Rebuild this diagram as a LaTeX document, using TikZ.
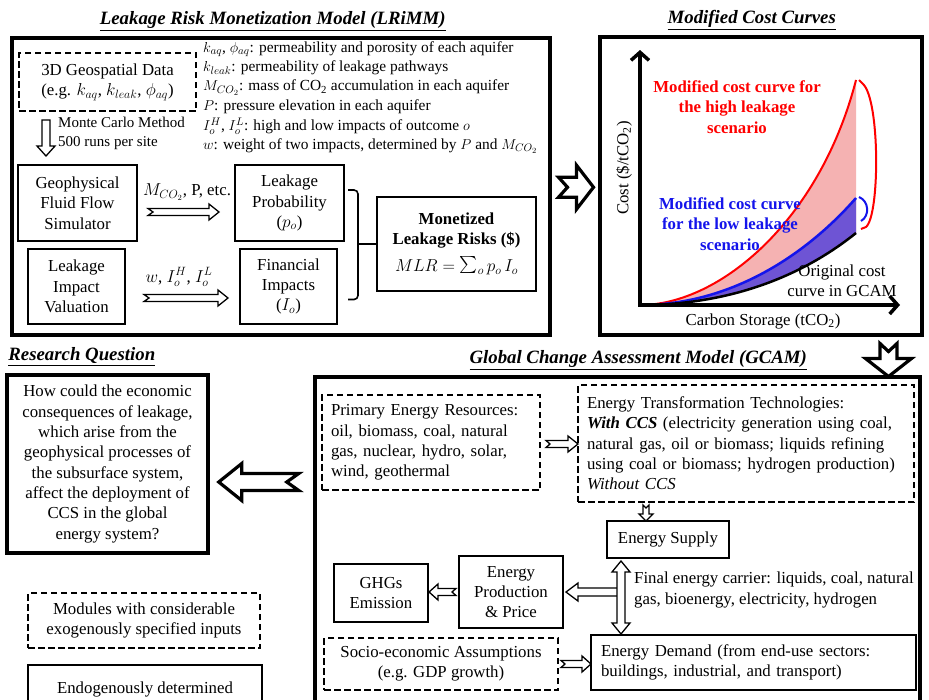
\documentclass[tikz,border=0pt]{standalone}
\usepackage{fontspec}
\setmainfont{Liberation Serif}
\usetikzlibrary{positioning, calc, arrows.meta}

\definecolor{rosa}{RGB}{245,178,178}
\definecolor{morado}{RGB}{110,84,212}
\definecolor{azul}{RGB}{20,20,235}

\newcommand{\txtcaja}{\fontsize{16.8}{20.3}\selectfont}
\newcommand{\txtdef}{\fontsize{15.4}{19.4}\selectfont}
\newcommand{\txtmonte}{\fontsize{15}{19}\selectfont}
\newcommand{\txttitulo}{\fontsize{18.8}{22}\selectfont\bfseries\itshape}

\tikzset{
	% flecha hueca con muesca: largo / media cana / media punta / largo punta / muesca
	pics/flechahueca/.style args={#1/#2/#3/#4/#5}{code={
			\filldraw[fill=white, line join=miter] (0,#2) -- ({#1-#4},#2) -- ({#1-#4},#3) -- (#1,0) -- ({#1-#4},-#3) -- ({#1-#4},-#2) -- (0,-#2) -- (#5,0) -- cycle;
	}},
	% flecha hueca de doble punta: largo / media cana / media punta / largo punta
	pics/flechadoble/.style args={#1/#2/#3/#4}{code={
			\filldraw[fill=white, line join=miter] (0,0) -- (#4,#3) -- (#4,#2) -- ({#1-#4},#2) -- ({#1-#4},#3) -- (#1,0) -- ({#1-#4},-#3) -- ({#1-#4},-#2) -- (#4,-#2) -- (#4,-#3) -- cycle;
	}}
}

\begin{document}
\begin{tikzpicture}[
		x=1pt, y=-1pt,
		% Estilos de cajas
		marco/.style={draw, line width=3.5pt, inner sep=0pt},
		caja/.style={draw, line width=2pt, align=center, font=\txtcaja, inner sep=2pt},
		punteada/.style={caja, dashed, dash pattern=on 6.5pt off 3.5pt},
		titulo/.style={font=\txttitulo},
		% Estilos de flechas
		flecha/.style={line width=1.3pt},
		flechagrande/.style={line width=3.2pt},
		llave/.style={line width=1.6pt}
		]
		
		\useasboundingbox (0,0) rectangle (929,699);
		\fill[white] (0,0) rectangle (929,699);
		
		% --- MODELO LRiMM (ARRIBA IZQUIERDA) ---
		\node[marco, minimum width=538pt, minimum height=297pt, anchor=north west] (lrimm) at (10,36) {};
		\node[titulo, above=2pt of lrimm.north, xshift=-8pt] (tlrimm) {\underline{Leakage Risk Monetization Model (LRiMM)}};
		
		\node[punteada, minimum width=177pt, minimum height=58pt, anchor=north west] (geo3d) at (18,52) {3D Geospatial Data\\(e.g. $k_{aq}$, $k_{leak}$, $\phi_{aq}$)};
		\node[anchor=north west, align=left, font=\txtdef, inner sep=0pt] (defs) at (203,41) {$k_{aq}$, $\phi_{aq}$: permeability and porosity of each aquifer\\$k_{leak}$: permeability of leakage pathways\\$M_{CO_2}$: mass of CO\textsubscript{2} accumulation in each aquifer\\$P$: pressure elevation in each aquifer\\[1pt]\smash{$I_o^H$}, \smash{$I_o^L$}: high and low impacts of outcome $o$\\[-1pt]$w$: weight of two impacts, determined by $P$ and $M_{CO_2}$};
		
		\pic[flecha, rotate=-90] at ($(geo3d.south west)+(28,8)$) {flechahueca=36/4/9/10/0};
		\node[anchor=north west, align=left, font=\txtmonte, inner sep=0pt] (monte) at (58,117) {Monte Carlo Method\\500 runs per site};
		
		\node[caja, minimum width=119pt, minimum height=76pt] (geofis) at (77.5,203) {Geophysical\\Fluid Flow\\Simulator};
		\node[caja, minimum width=109pt, minimum height=76pt] (prob) at (289.5,203) {Leakage\\Probability\\($p_o$)};
		\node[caja, minimum width=97pt, minimum height=75pt] (valor) at (76.5,286.5) {Leakage\\Impact\\Valuation};
		\node[caja, minimum width=97pt, minimum height=75pt] (finan) at (288.5,286.5) {Financial\\Impacts\\($I_o$)};
		\node[caja, minimum width=159pt, minimum height=94pt] (mlr) at (456.5,244) {\textbf{Monetized}\\\textbf{Leakage Risks (\$)}\\[7pt]$MLR=\mathop{\scalebox{1.7}{$\textstyle\sum$}}\nolimits_{o} p_o\,I_o$};
		
		% Flechas internas
		\pic[flecha] at ($(geofis.east)+(10,9)$) {flechahueca=71/3.5/8/10/5};
		\node[font=\txtcaja] (mco2) at ($(geofis.east)+(49,-11)$) {$M_{CO_2}$, P, etc.};
		\pic[flecha] at ($(valor.east)+(18,11.5)$) {flechahueca=84/3.5/8/10/5};
		\node[font=\txtcaja] (wio) at ($(valor.east)+(53,-9.5)$) {$w$, $I_o^H$, $I_o^L$};
		
		% Llave hacia MLR
		\coordinate (llavea) at ($(prob.east)+(3,-13)$);
		\coordinate (llaveb) at ($(finan.east)+(10,13)$);
		\coordinate (llavec) at ($(llavea)+(10,0)$);
		\draw[llave, rounded corners=4pt] (llavea) -- (llavec) |- (llaveb);
		\draw[llave] (llavec |- mlr.west) -- (mlr.west);
		
		\pic[flechagrande] at ($(lrimm.east)+(7,1)$) {flechahueca=35/10/22/17/9};
		
		% --- CURVAS DE COSTO (ARRIBA DERECHA) ---
		\node[marco, minimum width=322pt, minimum height=298pt, anchor=north west] (curvas) at (598,35) {};
		\node[titulo, above=2pt of curvas.north, xshift=-9pt] (tcurvas) {\underline{Modified Cost Curves}};
		
		\coordinate (origen) at (640,305);
		\coordinate (ejey) at (640,50);
		\coordinate (ejex) at (900,305);
		\coordinate (finroja) at (856,80);
		\coordinate (finazul) at (856,198);
		\coordinate (finnegra) at (856,233);
		
		\fill[rosa] (origen) .. controls (720,305) and (820,220) .. (finroja) -- (finnegra) .. controls (820,262) and (750,305) .. (origen);
		\fill[morado] (origen) .. controls (740,305) and (815,245) .. (finazul) -- (finnegra) .. controls (820,262) and (750,305) .. (origen);
		\draw[red, line width=2pt] (origen) .. controls (720,305) and (820,220) .. (finroja);
		\draw[azul, line width=2.5pt] (origen) .. controls (740,305) and (815,245) .. (finazul);
		\draw[line width=2.5pt] (origen) .. controls (750,305) and (820,262) .. (finnegra);
		
		% Corchetes de desplazamiento
		\draw[red, line width=2pt] (859,80) -- (863,84) .. controls (880,100) and (880,215) .. (866,227) -- (861,229);
		\draw[azul, line width=2pt] (859,197) .. controls (869,201) and (870,216) .. (861,221);
		
		\draw[line width=3.5pt, {Straight Barb[length=8pt, width=18pt]}-{Straight Barb[length=8pt, width=18pt]}] (ejey) -- (origen) -- (ejex);
		
		\node[font=\txtcaja\bfseries, text=red, align=center] (altafuga) at (737,107) {Modified cost curve for\\the high leakage\\scenario};
		\node[font=\txtcaja\bfseries, text=azul, align=center] (bajafuga) at (730,224) {Modified cost curve\\for the low leakage\\scenario};
		\node[font=\txtcaja, align=center] (original) at (842,281) {Original cost\\curve in GCAM};
		\node[font=\txtcaja, rotate=90] (ycosto) at (624,168) {Cost (\$/tCO\textsubscript{2})};
		\node[font=\txtcaja] (xalmac) at (763,321) {Carbon Storage (tCO\textsubscript{2})};
		
		\pic[flechagrande, rotate=-90] at ($(curvas.south east)+(-35,7)$) {flechahueca=33/8.5/23/18/8};
		
		% --- PREGUNTA DE INVESTIGACION (ABAJO IZQUIERDA) ---
		\node[marco, minimum width=201pt, minimum height=178pt, align=center, font=\txtcaja] (pregunta) at (107.5,464) {How could the economic\\consequences of leakage,\\which arise from the\\geophysical processes of\\the subsurface system,\\affect the deployment of\\CCS in the global\\energy system?};
		\node[titulo, anchor=south west, inner xsep=0pt] (tpregunta) at ($(pregunta.north west)+(3,-4)$) {\underline{Research Question}};
		
		\pic[flechagrande, rotate=180] at ($(pregunta.east)+(89,18)$) {flechahueca=80/8.5/18.5/23/12};
		
		% Leyenda
		\node[punteada, minimum width=232pt, minimum height=55pt] (leyexo) at (144,620.5) {Modules with considerable\\exogenously specified inputs};
		\node[caja, minimum width=234pt, minimum height=48pt] (leyendo) at (145,689) {Endogenously determined};
		
		% --- MODELO GCAM (ABAJO DERECHA) ---
		\node[marco, minimum width=605pt, minimum height=340pt, anchor=north west] (gcam) at (313,375) {};
		\node[titulo, above=2pt of gcam.north, xshift=21pt] (tgcam) {\underline{Global Change Assessment Model (GCAM)}};
		
		\node[punteada, minimum width=218pt, minimum height=95pt, text width=200pt, align=left] (primaria) at (431,442.5) {Primary Energy Resources:\\oil, biomass, coal, natural\\gas, nuclear, hydro, solar,\\wind, geothermal};
		\node[punteada, minimum width=336pt, minimum height=117pt, text width=318pt, align=left] (transf) at (746,443.5) {Energy Transformation Technologies:\\\textbf{\textit{With CCS}} (electricity generation using coal,\\natural gas, oil or biomass; liquids refining\\using coal or biomass; hydrogen production)\\\textit{Without CCS}};
		\pic[flecha] at ($(primaria.east)+(5,1.5)$) {flechahueca=32/3.5/8/10/4};
		
		\node[caja, minimum width=122pt, minimum height=37pt] (oferta) at (668,539.5) {Energy Supply};
		\pic[flecha, rotate=-90] at ($(transf.south west)+(69,2)$) {flechahueca=16/3/7/7/3};
		
		\node[caja, minimum width=104pt, minimum height=72pt] (produccion) at (511,592) {Energy\\Production\\\& Price};
		\node[caja, minimum width=94pt, minimum height=58pt] (ghg) at (381,593) {GHGs\\Emission};
		
		% Portadores finales de energia
		\pic[flecha, rotate=180] at ($(produccion.east)+(59,0)$) {flechahueca=57/4/9/12/0};
		\pic[flecha, rotate=-90] at ($(oferta.south west)+(15,2)$) {flechadoble=73/4/9/11};
		\node[anchor=west, align=left, font=\txtcaja, inner sep=0pt] (portador) at ($(oferta.south west)+(28,31)$) {Final energy carrier: liquids, coal, natural\\gas, bioenergy, electricity, hydrogen};
		\pic[flecha, rotate=180] at ($(produccion.west)+(-2,0)$) {flechahueca=27/3.5/8/9/4};
		
		\node[punteada, minimum width=234pt, minimum height=52pt] (socio) at (441,664) {Socio-economic Assumptions\\(e.g. GDP growth)};
		\node[caja, minimum width=325pt, minimum height=55pt, text width=305pt, align=left] (demanda) at (753.5,662.5) {Energy Demand (from end-use sectors:\\buildings, industrial, and transport)};
		\pic[flecha] at ($(socio.east)+(2,0)$) {flechahueca=30/3.5/8/9/4};
		
	\end{tikzpicture}
\end{document}
